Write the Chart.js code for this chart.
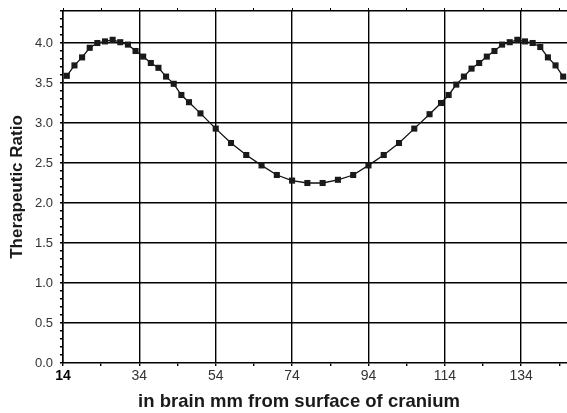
<!DOCTYPE html>
<html>
<head>
<meta charset="utf-8">
<script src="https://cdn.jsdelivr.net/npm/chart.js@4/dist/chart.umd.min.js"></script>
<style>
  html, body { margin: 0; padding: 0; background: #fff; }
  #wrap { width: 567px; height: 413px; }
</style>
</head>
<body>
<div id="wrap"><canvas id="myChart"></canvas></div>
<script>
// depth in brain (mm) and therapeutic ratio
const depthMm = [15, 17, 19, 21, 23, 25, 27, 29, 31, 33, 35, 37, 39, 41, 43, 45, 47,
  50, 54, 58, 62, 66, 70, 74, 78, 82, 86, 90, 94, 98, 102, 106, 110,
  113, 115, 117, 119, 121, 123, 125, 127, 129, 131, 133, 135, 137, 139, 141, 143, 145]
const ratio = [3.59, 3.72, 3.82, 3.94, 4.00, 4.02, 4.04, 4.01, 3.98, 3.90, 3.83, 3.75, 3.69, 3.58, 3.49, 3.35, 3.26,
  3.12, 2.93, 2.75, 2.60, 2.47, 2.35, 2.28, 2.25, 2.25, 2.29, 2.35, 2.47, 2.60, 2.75, 2.93, 3.11,
  3.25, 3.35, 3.48, 3.58, 3.68, 3.75, 3.83, 3.90, 3.98, 4.01, 4.04, 4.02, 4.00, 3.95, 3.82, 3.72, 3.58]

const xTickLabels = [14, 34, 54, 74, 94, 114, 134]
const xMinorTicks = [14, 24, 34, 44, 54, 64, 74, 84, 94, 104, 114, 124, 134, 144]
const yTickLabels = ['0.0', '0.5', '1.0', '1.5', '2.0', '2.5', '3.0', '3.5', '4.0']
const yMinorTicks = []
for (let i = 0; i <= 44; i++) yMinorTicks.push(i / 10)

const xTitle = 'in brain mm from surface of cranium'
const yTitle = 'Therapeutic Ratio'

const isMajorX = v => xTickLabels.includes(v)
const isMajorY = v => yTickLabels.includes(v.toFixed(1))

// the x title in the original sits a bit left of the plot centre
const xTitlePlugin = {
  id: 'xTitle',
  afterDraw(chart) {
    const c = chart.ctx
    c.save()
    c.font = 'bold 18.5px "Liberation Sans"'
    c.fillStyle = '#1a1a1a'
    c.textAlign = 'center'
    c.textBaseline = 'middle'
    c.fillText(xTitle, 299, 402)
    c.restore()
  }
}

const ctx = document.getElementById('myChart').getContext('2d')

const data = {
  datasets: [{
    label: yTitle,
    data: depthMm.map((d, i) => ({ x: d, y: ratio[i] })),
    borderColor: '#111',
    borderWidth: 1.3,
    backgroundColor: '#111',
    pointStyle: 'rect',
    pointRadius: 4.3,
    pointBorderWidth: 0,
    pointBackgroundColor: '#1a1a1a',
    tension: 0
  }]
}

const noPad = scale => {
  scale.paddingTop = 0
  scale.paddingBottom = 0
  scale.paddingLeft = 0
  scale.paddingRight = 0
}

const myChart = new Chart(ctx, {
  type: 'line',
  data: data,
  plugins: [xTitlePlugin],
  options: {
    responsive: true,
    maintainAspectRatio: false,
    animation: false,
    layout: { padding: 0, autoPadding: false },
    plugins: {
      legend: { display: false },
      tooltip: { enabled: false }
    },
    scales: {
      x: {
        type: 'linear',
        position: 'bottom',
        min: 14,
        max: 146,
        afterBuildTicks: scale => { scale.ticks = xMinorTicks.map(v => ({ value: v })) },
        afterFit: scale => { scale.height = 50; noPad(scale) },
        grid: {
          color: c => (c.tick && isMajorX(c.tick.value)) ? '#000' : 'rgba(0,0,0,0)',
          lineWidth: 1.4,
          tickColor: '#000',
          tickLength: 3
        },
        border: { color: '#000', width: 1.5 },
        ticks: {
          padding: 2,
          maxRotation: 0,
          autoSkip: false,
          color: c => (c.tick && c.tick.value === 14) ? '#000' : '#333',
          font: c => ({
            family: 'Liberation Sans',
            size: 14,
            weight: (c.tick && c.tick.value === 14) ? 'bold' : 'normal'
          }),
          callback: v => isMajorX(v) ? String(v) : ''
        },
        title: { display: false }
      },
      xTop: {
        type: 'linear',
        position: 'top',
        min: 14,
        max: 146,
        afterBuildTicks: scale => { scale.ticks = xMinorTicks.map(v => ({ value: v })) },
        afterFit: scale => { scale.height = 11; noPad(scale) },
        grid: { drawOnChartArea: false, tickColor: '#000', tickLength: 3 },
        border: { color: '#000', width: 1.5 },
        ticks: { display: false }
      },
      y: {
        type: 'linear',
        min: 0,
        max: 4.4,
        afterBuildTicks: scale => { scale.ticks = yMinorTicks.map(v => ({ value: v })) },
        afterFit: scale => { scale.width = 63; noPad(scale) },
        grid: {
          color: c => (c.tick && c.tick.value > 0 && isMajorY(c.tick.value)) ? '#000' : 'rgba(0,0,0,0)',
          lineWidth: 1.4,
          tickColor: '#000',
          tickLength: 3
        },
        border: { color: '#000', width: 1.5 },
        ticks: {
          padding: 7,
          autoSkip: false,
          color: '#333',
          font: { family: 'Liberation Sans', size: 13 },
          callback: v => isMajorY(v) ? v.toFixed(1) : ''
        },
        title: {
          display: true,
          text: yTitle,
          color: '#1a1a1a',
          padding: { top: 7, bottom: 0 },
          font: { family: 'Liberation Sans', size: 17, weight: 'bold' }
        }
      }
    }
  }
})
</script>
</body>
</html>
